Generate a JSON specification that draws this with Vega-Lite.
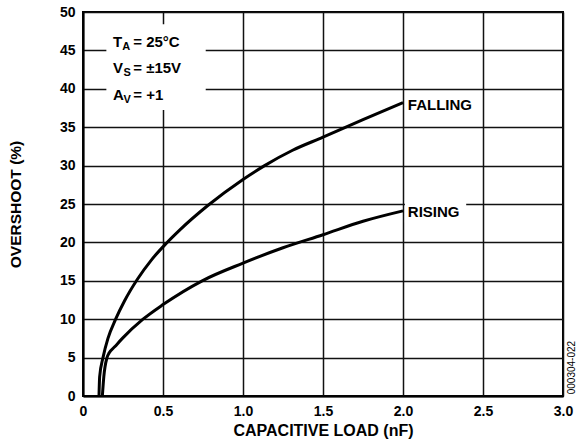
{
  "$schema": "https://vega.github.io/schema/vega-lite/v6.json",
  "description": "Overshoot vs capacitive load",
  "autosize": "none",
  "padding": {"left": 83, "top": 12, "right": 15, "bottom": 46},
  "width": 480,
  "height": 384,
  "background": "white",
  "view": {"stroke": "black", "strokeWidth": 2},
  "config": {"font": "Liberation Sans"},
  "datasets": {
    "curves": [
      {"series": "FALLING", "load": 0.1, "overshoot": 0},
      {"series": "FALLING", "load": 0.104, "overshoot": 2.5},
      {"series": "FALLING", "load": 0.125, "overshoot": 5},
      {"series": "FALLING", "load": 0.156, "overshoot": 7.5},
      {"series": "FALLING", "load": 0.204, "overshoot": 10},
      {"series": "FALLING", "load": 0.26, "overshoot": 12.4},
      {"series": "FALLING", "load": 0.34, "overshoot": 15.2},
      {"series": "FALLING", "load": 0.427, "overshoot": 17.7},
      {"series": "FALLING", "load": 0.517, "overshoot": 19.8},
      {"series": "FALLING", "load": 0.604, "overshoot": 21.6},
      {"series": "FALLING", "load": 0.78, "overshoot": 24.8},
      {"series": "FALLING", "load": 1.0, "overshoot": 28.2},
      {"series": "FALLING", "load": 1.135, "overshoot": 30},
      {"series": "FALLING", "load": 1.31, "overshoot": 32},
      {"series": "FALLING", "load": 1.5, "overshoot": 33.7},
      {"series": "FALLING", "load": 1.75, "overshoot": 36.0},
      {"series": "FALLING", "load": 2.0, "overshoot": 38.2},
      {"series": "RISING", "load": 0.121, "overshoot": 0},
      {"series": "RISING", "load": 0.13, "overshoot": 2.5},
      {"series": "RISING", "load": 0.15, "overshoot": 5},
      {"series": "RISING", "load": 0.163, "overshoot": 5.6},
      {"series": "RISING", "load": 0.198, "overshoot": 6.4},
      {"series": "RISING", "load": 0.246, "overshoot": 7.5},
      {"series": "RISING", "load": 0.375, "overshoot": 10},
      {"series": "RISING", "load": 0.5, "overshoot": 11.9},
      {"series": "RISING", "load": 0.745, "overshoot": 15},
      {"series": "RISING", "load": 1.0, "overshoot": 17.3},
      {"series": "RISING", "load": 1.25, "overshoot": 19.3},
      {"series": "RISING", "load": 1.5, "overshoot": 21.0},
      {"series": "RISING", "load": 1.75, "overshoot": 22.75},
      {"series": "RISING", "load": 2.0, "overshoot": 24.1}
    ],
    "boxes": [
      {"load": 0.146, "load_end": 0.767, "overshoot": 37.25, "overshoot_end": 48.4},
      {"load": 2.012, "load_end": 2.395, "overshoot": 22.6, "overshoot_end": 25.6}
    ],
    "labels": [
      {"load": 0.1875, "overshoot": 45.4, "text": "T"},
      {"load": 0.314, "overshoot": 45.4, "text": "= 25°C"},
      {"load": 0.1875, "overshoot": 42.0, "text": "V"},
      {"load": 0.314, "overshoot": 42.0, "text": "= ±15V"},
      {"load": 0.1875, "overshoot": 38.6, "text": "A"},
      {"load": 0.314, "overshoot": 38.6, "text": "= +1"},
      {"load": 2.03, "overshoot": 37.2, "text": "FALLING"},
      {"load": 2.03, "overshoot": 23.3, "text": "RISING"}
    ],
    "subscripts": [
      {"load": 0.245, "overshoot": 45.4, "text": "A"},
      {"load": 0.253, "overshoot": 42.0, "text": "S"},
      {"load": 0.253, "overshoot": 38.6, "text": "V"}
    ],
    "stamp": [{"load": 3.0, "overshoot": 3.7, "text": "000304-022"}]
  },
  "encoding": {
    "x": {
      "field": "load",
      "type": "quantitative",
      "title": "CAPACITIVE LOAD (nF)",
      "scale": {"domain": [0, 3], "nice": false},
      "axis": {
        "values": [0, 0.5, 1, 1.5, 2, 2.5, 3],
        "labelExpr": "datum.value == 0 ? '0' : format(datum.value, '.1f')",
        "labelFont": "Liberation Sans",
        "labelFontSize": 14,
        "labelFontWeight": "bold",
        "labelColor": "black",
        "labelPadding": 8,
        "labelFlush": false,
        "labelOverlap": false,
        "ticks": false,
        "domainColor": "black",
        "domainWidth": 2,
        "gridColor": "#111",
        "gridWidth": 1.5,
        "gridOpacity": 1,
        "titleFont": "Liberation Sans",
        "titleFontSize": 16,
        "titleFontWeight": "bold",
        "titleColor": "black",
        "titleX": 240,
        "titleY": 34,
        "titleBaseline": "middle"
      }
    },
    "y": {
      "field": "overshoot",
      "type": "quantitative",
      "title": "OVERSHOOT (%)",
      "scale": {"domain": [0, 50], "nice": false},
      "axis": {
        "values": [0, 5, 10, 15, 20, 25, 30, 35, 40, 45, 50],
        "labelFont": "Liberation Sans",
        "labelFontSize": 14,
        "labelFontWeight": "bold",
        "labelColor": "black",
        "labelPadding": 8,
        "labelFlush": false,
        "labelOverlap": false,
        "ticks": false,
        "domainColor": "black",
        "domainWidth": 2,
        "gridColor": "#111",
        "gridWidth": 1.5,
        "gridOpacity": 1,
        "titleFont": "Liberation Sans",
        "titleFontSize": 15.5,
        "titleFontWeight": "bold",
        "titleColor": "black",
        "titleX": -68,
        "titleY": 192,
        "titleAngle": 270,
        "titleAlign": "center",
        "titleBaseline": "middle"
      }
    }
  },
  "layer": [
    {
      "data": {"name": "curves"},
      "mark": {"type": "line", "color": "black", "strokeWidth": 3, "interpolate": "monotone"},
      "encoding": {
        "detail": {"field": "series"}
      }
    },
    {
      "data": {"name": "boxes"},
      "mark": {"type": "rect", "fill": "white"},
      "encoding": {
        "x2": {"field": "load_end"},
        "y2": {"field": "overshoot_end"}
      }
    },
    {
      "data": {"name": "labels"},
      "mark": {"type": "text", "align": "left", "baseline": "alphabetic", "font": "Liberation Sans", "fontSize": 15, "fontWeight": "bold", "color": "black"},
      "encoding": {
        "text": {"field": "text"}
      }
    },
    {
      "data": {"name": "subscripts"},
      "mark": {"type": "text", "align": "left", "baseline": "alphabetic", "dy": 3, "font": "Liberation Sans", "fontSize": 11, "fontWeight": "bold", "color": "black"},
      "encoding": {
        "text": {"field": "text"}
      }
    },
    {
      "data": {"name": "stamp"},
      "mark": {"type": "text", "angle": 270, "align": "center", "baseline": "middle", "dy": 9, "font": "Liberation Sans", "fontSize": 10, "color": "black"},
      "encoding": {
        "text": {"field": "text"}
      }
    }
  ]
}
